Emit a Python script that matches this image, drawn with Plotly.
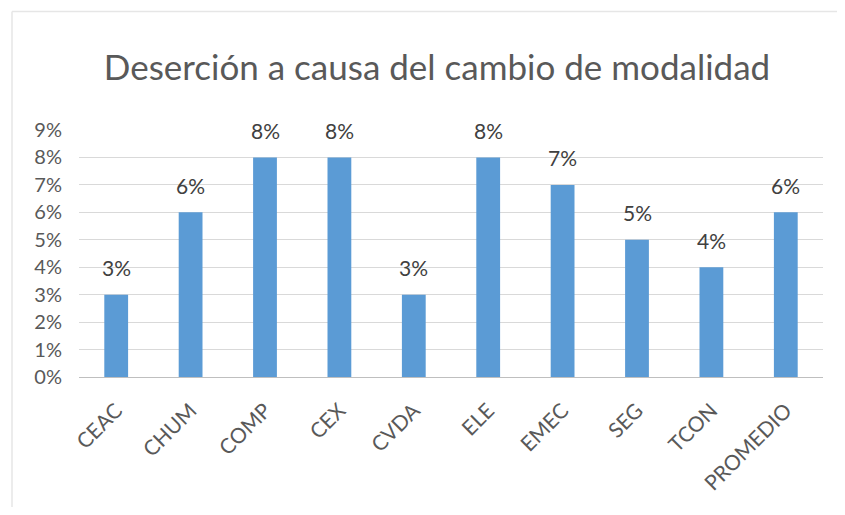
import plotly.graph_objects as go

categories = ["CEAC", "CHUM", "COMP", "CEX", "CVDA", "ELE", "EMEC", "SEG", "TCON", "PROMEDIO"]
values = [0.03, 0.06, 0.08, 0.08, 0.03, 0.08, 0.07, 0.05, 0.04, 0.06]
title_text = "Deserción a causa del cambio de modalidad"

# page body adds an 8px offset; figure coordinates are page coordinates - 8
OFF = 8
W, H = 845 - 2 * OFF, 515 - 2 * OFF
L, T = 79 - OFF, 130 - OFF
pw, ph = 744, 252
R = W - L - pw
B = H - T - ph

FONT = "Lato, Open Sans, sans-serif"

fig = go.Figure()
fig.add_trace(go.Bar(
    x=categories, y=values,
    marker=dict(color="#5b9bd5", line=dict(width=0)),
    hoverinfo="x+y",
))

for c, v in zip(categories, values):
    fig.add_annotation(
        x=c, y=v, text=f"{v*100:.0f}%", showarrow=False,
        yanchor="middle", yshift=27,
        font=dict(family=FONT, size=21, color="#404040"),
    )

# light outer border of the original chart area
bx, by = 12 - OFF, 9 - OFF
fig.add_shape(type="line", xref="paper", yref="paper",
              x0=(bx - L) / pw, x1=(bx - L) / pw,
              y0=1 + (T - by) / ph, y1=-(B + 20) / ph,
              line=dict(color="#e6e6e6", width=1.5))
fig.add_shape(type="line", xref="paper", yref="paper",
              x0=(bx - L) / pw, x1=(W + 20 - L) / pw,
              y0=1 + (T - by) / ph, y1=1 + (T - by) / ph,
              line=dict(color="#e6e6e6", width=1.5))

fig.update_layout(
    width=W, height=H,
    margin=dict(l=L, r=R, t=T, b=B),
    paper_bgcolor="white", plot_bgcolor="white",
    bargap=0.68,
    showlegend=False,
    title=dict(text=title_text, x=(437 - OFF) / W, xanchor="center",
               y=1 - (68 - OFF) / H, yanchor="middle",
               font=dict(family=FONT, size=35, color="#595959")),
    font=dict(family=FONT, color="#595959"),
)
fig.update_xaxes(
    tickangle=-45, tickfont=dict(size=21, color="#595959"),
    showline=True, linecolor="#bfbfbf", linewidth=1,
    showgrid=False, ticks="", ticklabelstandoff=12,
)
fig.update_yaxes(
    range=[0, 0.09], dtick=0.01, tickformat=".0%",
    tickfont=dict(size=20, color="#595959"),
    showgrid=True, gridcolor="#d9d9d9", gridwidth=1,
    zeroline=False, showline=False, ticks="", ticklabelstandoff=16,
)

fig.write_html("out.html", config={"displayModeBar": False})
